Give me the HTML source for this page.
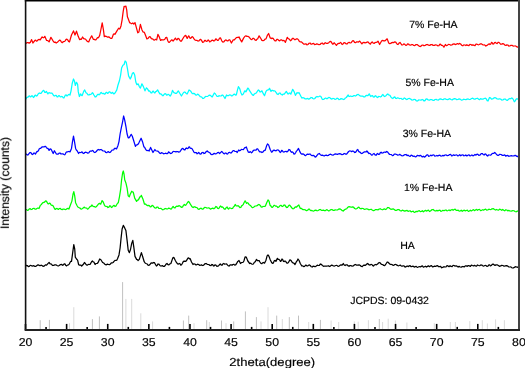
<!DOCTYPE html>
<html><head><meta charset="utf-8"><style>
html,body{margin:0;padding:0;background:#fff;}
svg{display:block;}
text{font-family:"Liberation Sans",sans-serif;fill:#000;text-rendering:geometricPrecision;}
.t{opacity:0.999;}
.t text{stroke:#000;stroke-width:0.18px;}
</style></head><body>
<svg width="525" height="368" viewBox="0 0 525 368">
<rect width="525" height="368" fill="#fff"/>

<line x1="40.2" y1="320.2" x2="40.2" y2="329" stroke="#c0c0c0" stroke-width="1"/>
<line x1="49.4" y1="319.9" x2="49.4" y2="329" stroke="#c0c0c0" stroke-width="1"/>
<line x1="69.5" y1="323.2" x2="69.5" y2="329" stroke="#dadada" stroke-width="1"/>
<line x1="73.8" y1="307.2" x2="73.8" y2="329" stroke="#dadada" stroke-width="1"/>
<line x1="92.4" y1="319.1" x2="92.4" y2="329" stroke="#c0c0c0" stroke-width="1"/>
<line x1="99.4" y1="316.4" x2="99.4" y2="329" stroke="#c0c0c0" stroke-width="1"/>
<line x1="122.6" y1="282.1" x2="122.6" y2="329" stroke="#c0c0c0" stroke-width="1"/>
<line x1="125.9" y1="298.9" x2="125.9" y2="329" stroke="#dadada" stroke-width="1"/>
<line x1="131.7" y1="298.9" x2="131.7" y2="329" stroke="#dadada" stroke-width="1"/>
<line x1="140.8" y1="313.3" x2="140.8" y2="329" stroke="#dadada" stroke-width="1"/>
<line x1="152.6" y1="321.4" x2="152.6" y2="329" stroke="#dadada" stroke-width="1"/>
<line x1="183.4" y1="320.5" x2="183.4" y2="329" stroke="#c0c0c0" stroke-width="1"/>
<line x1="188.7" y1="315.6" x2="188.7" y2="329" stroke="#c0c0c0" stroke-width="1"/>
<line x1="194.0" y1="323.2" x2="194.0" y2="329" stroke="#dadada" stroke-width="1"/>
<line x1="206.7" y1="320.2" x2="206.7" y2="329" stroke="#c0c0c0" stroke-width="1"/>
<line x1="209.3" y1="322.0" x2="209.3" y2="329" stroke="#dadada" stroke-width="1"/>
<line x1="221.5" y1="320.5" x2="221.5" y2="329" stroke="#c0c0c0" stroke-width="1"/>
<line x1="226.0" y1="323.2" x2="226.0" y2="329" stroke="#dadada" stroke-width="1"/>
<line x1="233.7" y1="321.4" x2="233.7" y2="329" stroke="#c0c0c0" stroke-width="1"/>
<line x1="245.4" y1="311.4" x2="245.4" y2="329" stroke="#c0c0c0" stroke-width="1"/>
<line x1="256.4" y1="317.1" x2="256.4" y2="329" stroke="#c0c0c0" stroke-width="1"/>
<line x1="261.0" y1="321.4" x2="261.0" y2="329" stroke="#dadada" stroke-width="1"/>
<line x1="268.0" y1="307.2" x2="268.0" y2="329" stroke="#dadada" stroke-width="1"/>
<line x1="276.7" y1="315.6" x2="276.7" y2="329" stroke="#c0c0c0" stroke-width="1"/>
<line x1="282.3" y1="319.0" x2="282.3" y2="329" stroke="#dadada" stroke-width="1"/>
<line x1="289.3" y1="317.1" x2="289.3" y2="329" stroke="#c0c0c0" stroke-width="1"/>
<line x1="298.5" y1="315.6" x2="298.5" y2="329" stroke="#c0c0c0" stroke-width="1"/>
<line x1="308.7" y1="322.0" x2="308.7" y2="329" stroke="#dadada" stroke-width="1"/>
<line x1="320.4" y1="319.9" x2="320.4" y2="329" stroke="#c0c0c0" stroke-width="1"/>
<line x1="331.1" y1="320.5" x2="331.1" y2="329" stroke="#dadada" stroke-width="1"/>
<line x1="338.7" y1="322.0" x2="338.7" y2="329" stroke="#dadada" stroke-width="1"/>
<line x1="354.3" y1="321.4" x2="354.3" y2="329" stroke="#dadada" stroke-width="1"/>
<line x1="358.2" y1="321.7" x2="358.2" y2="329" stroke="#dadada" stroke-width="1"/>
<line x1="368.4" y1="320.2" x2="368.4" y2="329" stroke="#dadada" stroke-width="1"/>
<line x1="379.3" y1="319.0" x2="379.3" y2="329" stroke="#c0c0c0" stroke-width="1"/>
<line x1="382.6" y1="322.0" x2="382.6" y2="329" stroke="#dadada" stroke-width="1"/>
<line x1="388.2" y1="318.7" x2="388.2" y2="329" stroke="#dadada" stroke-width="1"/>
<line x1="395.4" y1="320.5" x2="395.4" y2="329" stroke="#dadada" stroke-width="1"/>
<line x1="406.9" y1="322.5" x2="406.9" y2="329" stroke="#dadada" stroke-width="1"/>
<line x1="434.3" y1="323.2" x2="434.3" y2="329" stroke="#dadada" stroke-width="1"/>
<line x1="450.3" y1="322.0" x2="450.3" y2="329" stroke="#dadada" stroke-width="1"/>
<line x1="455.4" y1="322.0" x2="455.4" y2="329" stroke="#dadada" stroke-width="1"/>
<line x1="469.8" y1="321.1" x2="469.8" y2="329" stroke="#dadada" stroke-width="1"/>
<line x1="482.3" y1="320.2" x2="482.3" y2="329" stroke="#dadada" stroke-width="1"/>
<line x1="487.4" y1="323.5" x2="487.4" y2="329" stroke="#dadada" stroke-width="1"/>
<line x1="495.6" y1="319.4" x2="495.6" y2="329" stroke="#dadada" stroke-width="1"/>
<line x1="504.4" y1="320.2" x2="504.4" y2="329" stroke="#dadada" stroke-width="1"/>
<path d="M25.80,43.40 L26.90,42.73 L28.00,42.70 L29.15,43.13 L30.30,42.40 L31.60,39.60 L32.90,43.00 L34.90,40.40 L35.65,40.21 L36.40,41.10 L37.20,40.86 L38.00,39.90 L39.10,39.45 L40.20,39.90 L42.10,36.90 L43.30,37.80 L44.05,37.48 L44.80,36.30 L46.60,40.40 L47.85,40.65 L49.10,41.90 L50.90,37.30 L53.20,41.10 L54.20,42.29 L55.20,42.06 L56.20,43.00 L57.35,42.33 L58.50,41.10 L59.45,40.18 L60.40,40.40 L61.35,41.98 L62.30,42.70 L63.45,41.51 L64.60,41.40 L65.35,40.62 L66.10,39.30 L66.90,39.17 L67.70,39.90 L68.60,41.43 L69.50,41.90 L71.50,35.00 L73.50,30.90 L75.00,35.00 L76.50,31.20 L78.30,36.60 L79.60,39.60 L80.50,39.10 L81.40,39.30 L82.60,37.00 L83.65,38.56 L84.70,38.90 L85.70,39.26 L86.70,40.80 L87.70,41.63 L88.70,41.90 L89.80,39.30 L91.70,35.80 L93.30,39.30 L94.20,39.32 L95.10,39.90 L95.85,39.86 L96.60,38.90 L97.35,37.74 L98.10,37.80 L98.90,37.01 L99.70,35.40 L100.70,30.50 L102.20,22.90 L103.40,29.70 L104.30,36.60 L105.20,36.10 L106.10,36.30 L107.25,37.02 L108.40,36.90 L109.15,37.07 L109.90,37.80 L110.90,38.45 L111.90,38.40 L113.40,34.30 L114.15,33.87 L114.90,34.30 L116.80,31.20 L118.60,28.20 L119.80,29.00 L121.00,25.90 L122.10,19.80 L123.20,11.40 L124.10,6.40 L125.00,6.70 L125.90,6.10 L126.70,9.90 L127.40,16.80 L128.60,19.80 L129.70,22.90 L130.45,22.90 L131.20,23.60 L132.00,23.60 L132.80,22.90 L133.80,24.10 L135.00,22.60 L136.30,27.40 L137.80,32.80 L138.90,32.00 L140.40,24.40 L141.90,29.70 L143.00,32.00 L143.75,32.05 L144.50,32.80 L145.70,35.80 L146.90,38.90 L147.85,38.54 L148.80,37.30 L149.55,36.73 L150.30,36.90 L151.05,38.18 L151.80,38.90 L152.70,38.83 L153.60,39.90 L154.60,40.07 L155.60,39.30 L156.70,39.90 L157.90,34.30 L159.10,36.60 L160.60,40.40 L161.55,39.65 L162.50,39.90 L163.65,39.94 L164.80,39.30 L165.75,37.67 L166.70,37.30 L167.80,40.80 L168.55,42.18 L169.30,42.40 L171.60,39.90 L172.35,40.19 L173.10,41.10 L175.40,38.10 L176.20,39.39 L177.00,39.90 L178.00,38.40 L178.80,38.62 L179.60,39.90 L180.50,41.03 L181.40,41.10 L183.40,37.80 L184.55,35.99 L185.70,35.40 L187.20,38.40 L188.70,35.80 L190.20,38.40 L191.15,37.92 L192.10,36.60 L193.05,37.18 L194.00,38.90 L195.15,40.16 L196.30,40.40 L197.10,40.37 L197.90,41.10 L198.80,40.98 L199.70,39.90 L200.45,39.31 L201.20,39.90 L202.70,42.40 L203.70,41.97 L204.70,40.40 L205.45,40.45 L206.20,41.40 L207.20,41.13 L208.20,39.90 L208.95,40.62 L209.70,41.90 L210.65,41.51 L211.60,40.40 L212.75,40.19 L213.90,41.10 L214.85,40.42 L215.80,38.90 L216.60,39.32 L217.40,40.40 L218.15,40.32 L218.90,39.30 L219.65,38.03 L220.40,37.80 L221.90,41.10 L222.85,42.01 L223.80,41.90 L224.90,40.50 L226.00,39.90 L227.00,40.78 L228.00,40.80 L228.95,39.90 L229.90,39.90 L231.40,43.00 L233.20,39.90 L234.20,39.95 L235.20,38.90 L236.35,37.64 L237.50,37.30 L238.25,37.51 L239.00,36.90 L240.50,39.90 L241.70,41.90 L243.60,38.10 L244.75,36.50 L245.90,35.80 L246.85,36.33 L247.80,36.30 L248.75,36.76 L249.70,37.80 L250.75,39.22 L251.80,39.60 L252.80,38.38 L253.80,38.40 L254.95,39.88 L256.10,40.40 L256.85,39.24 L257.60,38.90 L259.10,35.80 L260.40,37.80 L261.90,40.40 L262.95,40.73 L264.00,40.40 L265.00,39.20 L266.00,38.90 L267.50,35.00 L268.60,33.50 L270.10,37.80 L271.10,38.57 L272.10,38.10 L273.10,38.45 L274.10,39.90 L275.00,40.81 L275.90,40.80 L276.80,39.47 L277.70,39.30 L278.70,40.40 L279.70,40.80 L280.70,39.90 L281.70,39.90 L282.75,40.76 L283.80,40.40 L284.60,40.92 L285.40,42.40 L287.30,37.30 L288.10,38.54 L288.90,38.90 L289.65,39.48 L290.40,40.80 L291.40,40.07 L292.40,38.40 L293.45,38.39 L294.50,39.60 L295.50,39.52 L296.50,38.90 L297.50,38.85 L298.50,39.90 L299.40,41.47 L300.30,41.90 L301.45,41.86 L302.60,43.00 L303.75,44.14 L304.90,44.20 L305.90,43.74 L306.90,44.86 L307.90,44.50 L309.05,43.28 L310.20,43.00 L310.95,44.02 L311.70,44.20 L312.70,43.51 L313.70,43.40 L314.60,44.53 L315.50,44.50 L316.65,43.87 L317.80,44.20 L318.95,44.69 L320.10,44.50 L321.25,43.30 L322.40,43.00 L323.15,44.04 L323.90,44.20 L324.65,43.05 L325.40,42.70 L326.45,43.44 L327.50,43.40 L328.80,42.70 L329.80,41.59 L330.80,41.40 L332.60,44.20 L333.35,43.94 L334.10,42.70 L336.40,45.40 L337.55,43.91 L338.70,43.40 L339.60,43.33 L340.50,42.40 L341.30,43.17 L342.10,44.50 L343.05,43.95 L344.00,42.70 L345.15,42.97 L346.30,43.90 L347.25,43.78 L348.20,42.70 L349.15,42.27 L350.10,43.00 L351.10,42.76 L352.10,41.40 L352.85,40.54 L353.60,40.80 L354.55,42.31 L355.50,42.70 L356.40,41.94 L357.30,41.90 L358.50,42.07 L359.70,41.10 L361.90,43.90 L362.90,42.64 L363.90,42.40 L365.00,42.85 L366.10,42.70 L367.05,42.02 L368.00,41.90 L369.20,43.33 L370.40,44.20 L371.30,42.51 L372.20,41.90 L373.15,43.01 L374.10,43.40 L375.05,42.59 L376.00,42.40 L377.00,42.24 L378.00,41.10 L379.60,44.50 L381.70,40.80 L382.70,40.41 L383.70,40.80 L384.65,40.90 L385.60,40.40 L386.40,39.32 L387.20,38.90 L388.70,43.00 L389.75,43.66 L390.80,43.40 L391.80,42.57 L392.80,42.40 L393.80,42.52 L394.80,41.90 L395.70,42.12 L396.60,43.40 L397.35,44.38 L398.10,44.50 L399.05,43.06 L400.00,42.40 L401.80,45.00 L402.80,44.89 L403.80,43.90 L404.80,44.37 L405.80,45.40 L406.70,45.06 L407.60,43.90 L408.50,44.03 L409.40,45.00 L410.65,45.09 L411.90,44.50 L412.80,44.64 L413.70,45.40 L414.85,45.54 L416.00,44.50 L417.15,44.50 L418.30,45.40 L419.45,46.30 L420.60,46.50 L421.75,45.26 L422.90,45.00 L424.00,45.76 L425.10,45.40 L426.25,44.67 L427.40,44.50 L428.55,45.23 L429.70,45.40 L430.85,44.63 L432.00,44.50 L433.15,45.48 L434.30,45.40 L435.45,44.87 L436.60,45.00 L437.75,45.87 L438.90,45.70 L439.65,44.44 L440.40,44.20 L441.40,45.27 L442.40,45.40 L443.15,45.95 L443.90,47.20 L445.40,44.50 L446.35,45.57 L447.30,45.40 L448.45,44.39 L449.60,44.50 L450.75,45.21 L451.90,45.00 L453.00,44.10 L454.10,43.90 L455.25,44.55 L456.40,44.20 L457.43,43.52 L458.47,44.14 L459.50,43.40 L460.65,44.01 L461.80,45.40 L462.80,45.76 L463.80,44.84 L464.80,45.00 L465.83,45.51 L466.87,44.65 L467.90,45.40 L468.90,45.69 L469.90,44.42 L470.90,44.50 L471.93,45.38 L472.97,44.72 L474.00,45.40 L475.00,45.61 L476.00,44.06 L477.00,44.20 L478.15,44.77 L479.30,44.50 L480.45,43.84 L481.60,43.90 L482.50,44.72 L483.40,45.00 L484.60,44.91 L485.80,46.00 L487.10,45.38 L488.40,44.20 L489.20,43.79 L490.00,44.50 L490.75,44.07 L491.50,42.40 L492.25,42.82 L493.00,44.20 L493.75,43.78 L494.50,42.70 L495.50,42.47 L496.50,43.40 L497.25,43.52 L498.00,42.40 L498.95,42.38 L499.90,43.40 L500.80,44.25 L501.70,44.20 L502.70,43.64 L503.70,43.90 L504.85,45.04 L506.00,45.40 L506.90,44.86 L507.80,45.00 L508.80,46.01 L509.80,46.00 L510.90,45.27 L512.00,45.40 L513.15,46.04 L514.30,46.00 L515.45,45.94 L516.60,46.50 L517.35,47.21 L518.10,46.90" fill="none" stroke="#ff0000" stroke-width="1.25" stroke-linejoin="round"/>
<path d="M25.80,99.10 L26.55,97.83 L27.30,97.20 L28.05,97.18 L28.80,96.00 L29.55,95.91 L30.30,96.90 L31.10,96.66 L31.90,95.70 L32.65,96.15 L33.40,97.50 L34.15,96.88 L34.90,95.40 L35.65,95.20 L36.40,96.00 L37.20,95.65 L38.00,94.20 L38.75,93.30 L39.50,93.00 L40.25,93.48 L41.00,93.40 L42.10,91.90 L43.30,90.40 L44.05,90.83 L44.80,92.40 L45.55,92.33 L46.30,91.40 L47.90,93.90 L48.65,92.76 L49.40,92.70 L50.30,93.12 L51.20,93.00 L51.95,93.17 L52.70,94.20 L53.70,95.63 L54.70,96.00 L55.45,95.35 L56.20,95.40 L57.00,96.76 L57.80,96.90 L58.55,95.71 L59.30,95.70 L60.05,96.58 L60.80,96.90 L61.55,96.42 L62.30,96.50 L63.10,97.71 L63.90,98.00 L65.40,95.00 L66.15,94.89 L66.90,96.00 L67.65,95.66 L68.40,94.50 L69.20,94.40 L70.00,95.00 L71.00,91.10 L72.20,83.50 L73.50,79.00 L74.50,81.20 L75.30,85.40 L76.50,82.30 L77.60,84.30 L78.30,91.90 L79.40,96.50 L80.60,93.90 L81.35,95.22 L82.10,95.70 L83.70,91.40 L84.70,89.90 L86.00,92.70 L86.75,93.17 L87.50,94.20 L88.25,94.95 L89.00,95.00 L89.75,94.32 L90.50,94.50 L91.45,94.05 L92.40,92.70 L93.15,93.50 L93.90,95.00 L95.10,96.90 L95.85,96.80 L96.60,96.00 L97.35,94.75 L98.10,94.20 L98.90,94.79 L99.70,94.50 L100.45,93.08 L101.20,92.40 L101.95,93.28 L102.70,93.60 L103.65,93.33 L104.60,94.20 L105.35,93.77 L106.10,92.40 L106.85,92.40 L107.60,93.40 L108.35,92.99 L109.10,91.90 L109.90,91.82 L110.70,93.00 L111.45,93.28 L112.20,92.40 L112.95,92.84 L113.70,93.90 L114.45,93.69 L115.20,92.70 L116.80,89.90 L118.00,85.00 L119.50,80.50 L120.60,75.10 L121.60,68.00 L122.90,65.20 L124.10,64.50 L125.10,61.00 L126.20,62.20 L127.40,68.30 L128.60,75.90 L130.20,79.00 L131.20,77.10 L132.30,73.60 L133.50,72.60 L134.70,75.10 L135.80,82.00 L136.90,84.70 L138.10,83.80 L139.30,86.60 L140.40,88.10 L141.90,83.80 L143.40,86.60 L145.00,90.80 L146.50,87.80 L147.50,88.90 L148.80,91.10 L149.55,90.97 L150.30,91.90 L151.05,92.98 L151.80,93.00 L152.55,91.44 L153.30,91.10 L154.10,92.47 L154.90,93.00 L155.65,91.63 L156.40,91.40 L157.60,89.90 L159.10,92.70 L159.85,93.81 L160.60,93.90 L161.55,94.42 L162.50,95.70 L163.25,95.58 L164.00,94.50 L164.90,93.61 L165.80,93.90 L166.60,95.02 L167.40,95.00 L168.15,94.30 L168.90,94.50 L169.65,95.73 L170.40,96.00 L171.60,93.40 L172.50,90.40 L173.90,92.70 L174.65,92.77 L175.40,93.40 L176.20,93.41 L177.00,92.70 L178.30,90.90 L179.60,93.00 L181.40,96.00 L183.40,92.70 L184.40,91.99 L185.40,92.40 L186.30,93.57 L187.20,93.90 L189.00,89.90 L190.20,90.80 L191.00,91.57 L191.80,93.00 L192.70,93.67 L193.60,93.40 L194.60,93.68 L195.60,95.00 L196.60,95.11 L197.60,94.20 L198.50,94.55 L199.40,95.70 L200.30,96.73 L201.20,96.90 L201.95,97.25 L202.70,98.50 L203.70,98.40 L204.70,97.20 L205.70,96.39 L206.70,96.50 L207.75,96.36 L208.80,95.40 L209.80,95.10 L210.80,95.70 L211.55,96.58 L212.30,96.90 L214.30,93.00 L215.20,93.71 L216.10,95.00 L217.05,96.27 L218.00,96.50 L219.00,95.63 L220.00,96.00 L221.10,95.98 L222.20,95.00 L223.00,95.34 L223.80,96.50 L225.00,98.50 L226.50,95.00 L227.40,95.68 L228.30,95.70 L229.45,94.90 L230.60,95.00 L231.60,95.97 L232.60,95.70 L233.65,94.40 L234.70,94.20 L235.50,95.06 L236.30,95.00 L237.50,89.90 L238.40,86.60 L239.80,88.90 L240.80,92.40 L242.00,95.00 L243.30,93.90 L244.80,90.80 L245.90,91.90 L247.80,88.10 L248.60,88.67 L249.40,90.40 L251.50,93.60 L252.45,94.85 L253.40,95.40 L254.35,93.95 L255.30,93.40 L256.30,93.01 L257.30,91.40 L258.40,89.90 L259.15,90.42 L259.90,91.90 L260.90,91.79 L261.90,90.80 L263.40,93.90 L264.50,95.70 L266.00,91.40 L267.00,90.28 L268.00,89.90 L268.75,89.62 L269.50,88.40 L271.00,91.40 L271.80,90.29 L272.60,90.40 L273.50,90.87 L274.40,90.80 L275.30,91.20 L276.20,92.70 L277.20,94.17 L278.20,94.50 L279.20,93.16 L280.20,93.00 L281.25,94.54 L282.30,95.00 L283.30,94.04 L284.30,94.20 L286.30,91.40 L287.80,93.90 L288.55,93.91 L289.30,93.00 L290.05,93.13 L290.80,94.20 L292.70,89.30 L294.20,91.90 L295.40,95.40 L296.90,92.70 L298.00,93.12 L299.10,92.70 L300.60,95.70 L301.80,98.00 L302.95,97.71 L304.10,98.00 L305.25,98.98 L306.40,98.80 L307.55,98.47 L308.70,99.10 L309.85,98.64 L311.00,97.50 L311.90,97.55 L312.80,98.50 L313.80,98.94 L314.80,98.50 L315.90,97.10 L317.00,96.50 L317.95,96.89 L318.90,96.50 L319.90,96.04 L320.90,96.50 L322.40,99.50 L323.55,99.49 L324.70,98.50 L325.60,98.06 L326.50,98.60 L327.25,98.73 L328.00,98.00 L328.80,97.47 L329.60,97.50 L330.75,98.65 L331.90,99.10 L332.85,98.47 L333.80,98.50 L334.90,99.28 L336.00,99.10 L337.00,98.22 L338.00,98.50 L338.95,99.56 L339.90,99.50 L341.00,98.59 L342.10,98.80 L343.30,99.51 L344.50,99.10 L345.40,97.94 L346.30,97.50 L348.20,95.00 L348.95,96.32 L349.70,96.50 L350.70,95.99 L351.70,96.50 L352.65,96.40 L353.60,95.70 L354.55,95.57 L355.50,96.00 L356.40,95.53 L357.30,94.50 L358.30,94.41 L359.30,95.40 L360.45,96.06 L361.60,96.00 L362.75,96.14 L363.90,96.90 L364.85,96.79 L365.80,95.70 L366.75,95.31 L367.70,95.70 L368.45,95.10 L369.20,93.90 L370.70,96.50 L371.60,95.77 L372.50,95.70 L373.30,96.91 L374.10,97.20 L374.85,96.12 L375.60,95.70 L376.60,96.97 L377.60,97.50 L378.60,96.47 L379.60,96.50 L380.50,96.93 L381.40,96.50 L382.15,95.11 L382.90,94.50 L383.80,95.94 L384.70,96.50 L386.00,95.70 L386.90,94.52 L387.80,93.90 L388.55,94.86 L389.30,95.00 L390.05,95.53 L390.80,96.90 L391.80,98.04 L392.80,98.50 L393.80,97.39 L394.80,96.90 L395.70,98.29 L396.60,98.50 L397.50,97.80 L398.40,98.00 L399.30,98.60 L400.20,98.50 L401.20,98.41 L402.20,99.30 L403.25,99.21 L404.30,98.00 L405.35,98.47 L406.40,99.50 L407.40,99.28 L408.40,98.50 L409.55,98.48 L410.70,99.10 L411.85,100.08 L413.00,100.00 L414.10,99.42 L415.20,99.50 L416.35,100.77 L417.50,101.00 L418.65,99.99 L419.80,100.00 L420.95,100.22 L422.10,99.50 L423.10,99.90 L424.10,101.00 L425.00,100.67 L425.90,99.10 L427.05,98.99 L428.20,100.00 L429.35,100.21 L430.50,99.50 L431.65,99.55 L432.80,100.30 L433.90,100.40 L435.00,99.50 L436.15,99.34 L437.30,100.00 L438.45,100.03 L439.60,99.10 L440.75,98.91 L441.90,99.50 L443.05,99.65 L444.20,98.80 L445.35,98.86 L446.50,99.50 L447.65,99.68 L448.80,99.10 L449.90,98.68 L451.00,99.50 L452.15,99.89 L453.30,99.10 L454.45,98.57 L455.60,98.80 L456.75,99.73 L457.90,99.50 L459.05,98.92 L460.20,99.10 L461.35,100.16 L462.50,100.00 L463.65,99.21 L464.80,99.50 L465.90,99.72 L467.00,99.10 L468.15,98.94 L469.30,99.50 L470.45,99.27 L471.60,98.50 L472.75,98.21 L473.90,99.10 L475.05,99.08 L476.20,98.50 L477.35,98.24 L478.50,99.10 L479.53,99.72 L480.57,98.62 L481.60,99.10 L482.95,99.13 L484.30,98.50 L485.35,98.22 L486.40,99.10 L487.20,100.67 L488.00,101.00 L489.50,97.50 L490.50,97.78 L491.50,99.10 L492.65,99.00 L493.80,98.00 L494.90,97.59 L496.00,98.00 L497.15,98.94 L498.30,99.10 L499.45,98.76 L500.60,99.10 L501.75,100.06 L502.90,100.00 L504.05,99.12 L505.20,99.10 L506.35,100.04 L507.50,100.30 L508.65,99.09 L509.80,98.50 L510.75,98.76 L511.70,98.00 L512.50,98.37 L513.30,99.50 L514.30,101.80 L515.10,101.10 L515.90,99.50 L516.65,98.76 L517.40,98.80 L518.40,99.50" fill="none" stroke="#00ffff" stroke-width="1.25" stroke-linejoin="round"/>
<path d="M25.80,154.10 L26.55,154.23 L27.30,155.00 L28.05,154.98 L28.80,153.80 L29.80,152.61 L30.80,152.50 L32.30,154.50 L33.05,154.11 L33.80,153.00 L34.60,153.10 L35.40,154.10 L36.90,151.50 L37.65,151.53 L38.40,150.70 L39.15,149.05 L39.90,148.40 L40.70,148.45 L41.50,147.40 L42.40,146.85 L43.30,146.90 L44.05,146.93 L44.80,146.40 L45.55,146.33 L46.30,147.40 L47.10,148.33 L47.90,148.40 L49.10,150.40 L50.10,148.90 L50.90,149.11 L51.70,150.40 L53.20,153.50 L54.40,150.70 L56.20,153.80 L57.20,154.22 L58.20,154.10 L59.10,153.12 L60.00,153.00 L60.95,153.93 L61.90,153.80 L62.90,153.80 L63.90,154.50 L64.65,154.76 L65.40,153.80 L66.15,152.26 L66.90,151.90 L67.65,151.98 L68.40,151.50 L69.20,151.42 L70.00,151.90 L71.50,148.40 L72.50,141.60 L73.50,136.20 L74.50,141.60 L75.60,148.40 L76.35,150.01 L77.10,150.70 L78.60,153.50 L79.40,152.39 L80.20,152.50 L80.95,152.61 L81.70,151.90 L82.45,152.35 L83.20,153.50 L83.95,153.42 L84.70,152.50 L85.70,152.22 L86.70,152.50 L87.70,153.10 L88.70,153.00 L89.60,151.57 L90.50,151.00 L91.45,151.15 L92.40,150.40 L93.35,151.10 L94.30,152.50 L95.30,152.35 L96.30,151.50 L97.35,150.15 L98.40,149.50 L99.30,150.04 L100.20,149.70 L101.00,149.48 L101.80,150.00 L102.80,150.78 L103.80,151.00 L104.80,151.18 L105.80,152.50 L106.70,152.67 L107.60,151.90 L108.50,151.70 L109.40,152.50 L110.20,152.34 L111.00,151.50 L112.00,150.12 L113.00,150.00 L113.75,149.78 L114.50,148.40 L115.50,148.34 L116.50,148.90 L118.00,145.40 L119.00,141.60 L120.10,134.00 L121.30,127.90 L122.60,121.80 L123.60,116.00 L124.70,120.20 L125.90,126.30 L127.10,134.00 L128.20,137.80 L128.95,137.79 L129.70,137.00 L131.20,134.30 L132.30,136.20 L133.50,140.00 L135.40,146.40 L136.15,145.12 L136.90,144.90 L137.90,144.38 L138.90,142.80 L141.10,138.20 L142.70,142.30 L143.90,146.90 L144.65,147.29 L145.40,148.90 L146.30,150.22 L147.20,150.70 L148.15,150.28 L149.10,151.00 L150.60,147.40 L151.80,150.00 L153.00,152.50 L154.90,149.50 L155.80,150.76 L156.70,151.00 L157.70,151.07 L158.70,151.90 L159.65,153.18 L160.60,153.50 L161.55,152.66 L162.50,153.00 L163.65,153.82 L164.80,153.50 L165.90,153.20 L167.00,153.80 L167.80,153.33 L168.60,151.90 L169.50,152.42 L170.40,153.50 L171.40,153.36 L172.40,152.50 L173.15,151.44 L173.90,151.50 L175.20,151.60 L176.00,151.97 L176.80,151.50 L177.80,151.52 L178.80,152.20 L179.80,151.77 L180.80,150.40 L181.85,148.88 L182.90,148.40 L183.90,149.71 L184.90,150.00 L185.65,148.60 L186.40,148.00 L187.20,148.63 L188.00,148.40 L188.75,147.20 L189.50,146.90 L190.25,148.20 L191.00,148.40 L191.75,148.49 L192.50,149.50 L194.00,152.20 L194.80,152.76 L195.60,152.50 L196.35,152.70 L197.10,153.80 L197.85,153.43 L198.60,152.50 L199.35,153.01 L200.10,154.10 L201.10,153.82 L202.10,152.50 L203.05,152.38 L204.00,153.50 L204.75,153.48 L205.50,152.50 L206.40,151.34 L207.30,151.00 L208.05,151.93 L208.80,152.20 L209.80,152.70 L210.80,154.10 L211.95,154.72 L213.10,154.10 L214.25,153.40 L215.40,153.80 L216.55,153.61 L217.70,152.50 L218.60,152.42 L219.50,153.50 L220.50,152.85 L221.50,151.50 L222.50,152.05 L223.50,153.50 L224.40,153.86 L225.30,153.00 L226.20,153.07 L227.10,154.10 L227.85,153.74 L228.60,152.50 L229.60,152.38 L230.60,153.00 L231.35,152.92 L232.10,151.90 L233.10,150.69 L234.10,150.70 L234.85,151.37 L235.60,151.50 L236.40,151.45 L237.20,152.50 L238.70,150.00 L239.60,150.77 L240.50,150.40 L241.45,149.36 L242.40,149.50 L243.15,149.74 L243.90,148.90 L244.65,147.74 L245.40,147.70 L246.30,146.90 L247.40,150.00 L248.40,152.20 L249.20,152.41 L250.00,151.70 L250.75,151.78 L251.50,152.80 L252.35,152.12 L253.20,150.60 L254.25,150.01 L255.30,150.00 L256.10,150.03 L256.90,148.90 L257.65,148.97 L258.40,150.00 L259.15,151.29 L259.90,151.90 L260.90,151.75 L261.90,152.50 L262.80,152.19 L263.70,151.00 L264.45,150.30 L265.20,150.40 L266.50,146.10 L267.50,143.90 L268.60,144.90 L270.10,149.20 L271.60,152.20 L272.40,151.69 L273.20,150.40 L274.15,150.09 L275.10,150.70 L276.10,150.84 L277.10,150.00 L278.05,149.86 L279.00,150.70 L280.20,152.50 L280.95,151.88 L281.70,150.40 L282.45,150.87 L283.20,151.90 L284.10,152.05 L285.00,151.50 L285.95,151.37 L286.90,151.90 L287.90,151.18 L288.90,149.50 L289.85,149.92 L290.80,151.50 L291.60,152.26 L292.40,151.90 L293.15,152.44 L293.90,154.10 L294.80,153.86 L295.70,152.50 L296.45,151.09 L297.20,150.40 L298.50,148.40 L300.00,151.90 L300.90,153.57 L301.80,154.10 L302.95,153.79 L304.10,154.50 L304.85,155.35 L305.60,155.60 L306.60,154.57 L307.60,154.10 L308.50,154.38 L309.40,154.10 L310.35,154.16 L311.30,155.30 L312.25,155.66 L313.20,155.30 L314.20,155.89 L315.20,157.10 L316.10,156.69 L317.00,155.30 L318.15,154.01 L319.30,153.50 L320.30,154.70 L321.30,155.30 L322.35,155.12 L323.40,155.60 L324.30,155.91 L325.20,155.30 L326.25,155.12 L327.30,155.60 L328.35,155.42 L329.40,154.50 L330.65,154.22 L331.90,155.00 L333.00,155.18 L334.10,154.50 L335.25,153.91 L336.40,154.10 L337.55,154.39 L338.70,153.80 L339.85,153.67 L341.00,154.10 L342.00,154.71 L343.00,154.50 L343.90,153.58 L344.80,153.50 L345.70,154.14 L346.60,154.10 L348.60,151.50 L349.60,150.94 L350.60,151.00 L351.65,151.59 L352.70,151.00 L353.70,151.30 L354.70,152.50 L355.45,152.35 L356.20,151.50 L357.00,150.01 L357.80,149.50 L358.55,151.26 L359.30,151.90 L360.30,152.42 L361.30,153.50 L362.35,153.28 L363.40,152.50 L364.40,151.88 L365.40,151.90 L366.15,151.98 L366.90,151.00 L368.90,153.50 L369.80,153.47 L370.70,154.10 L371.60,155.07 L372.50,155.00 L373.30,153.74 L374.10,153.50 L375.05,154.87 L376.00,155.30 L376.80,154.05 L377.60,153.50 L378.60,154.42 L379.60,154.10 L380.35,152.59 L381.10,152.20 L382.00,153.06 L382.90,153.00 L383.80,152.25 L384.70,152.20 L385.70,152.35 L386.70,151.50 L387.70,152.09 L388.70,153.50 L389.60,154.48 L390.50,154.50 L391.45,154.66 L392.40,155.60 L393.35,155.35 L394.30,154.10 L395.45,154.01 L396.60,154.50 L397.75,155.13 L398.90,155.00 L399.75,154.33 L400.60,154.90 L401.90,155.84 L403.20,155.60 L404.65,154.67 L406.10,154.50 L407.10,155.58 L408.10,155.12 L409.10,156.00 L410.13,156.47 L411.17,155.20 L412.20,155.60 L413.20,156.42 L414.20,156.04 L415.20,156.80 L416.23,156.67 L417.27,155.41 L418.30,155.60 L419.30,156.02 L420.30,155.30 L421.30,156.00 L422.33,156.98 L423.37,156.26 L424.40,157.10 L425.55,156.38 L426.70,155.00 L427.70,154.75 L428.70,156.29 L429.70,156.00 L430.73,155.14 L431.77,155.79 L432.80,155.00 L433.80,154.93 L434.80,156.06 L435.80,156.00 L436.83,155.42 L437.87,156.05 L438.90,155.30 L439.90,155.11 L440.90,156.11 L441.90,156.00 L442.93,155.36 L443.97,155.84 L445.00,155.00 L446.15,154.92 L447.30,155.60 L448.45,155.50 L449.60,154.50 L450.60,154.48 L451.60,155.82 L452.60,155.60 L453.63,154.81 L454.67,155.48 L455.70,155.00 L456.70,154.86 L457.70,155.79 L458.70,155.60 L459.73,154.77 L460.77,155.75 L461.80,155.00 L462.80,154.81 L463.80,155.75 L464.80,155.60 L465.83,154.99 L466.87,155.97 L467.90,155.30 L468.90,154.79 L469.90,155.89 L470.90,155.60 L471.93,154.91 L472.97,155.92 L474.00,155.30 L475.00,154.46 L476.00,155.12 L477.00,154.10 L477.90,154.35 L478.80,155.30 L479.80,155.23 L480.80,154.10 L481.55,153.50 L482.30,153.50 L483.30,154.58 L484.30,155.00 L485.05,153.95 L485.80,154.10 L486.75,155.40 L487.70,156.00 L488.60,154.96 L489.50,155.00 L490.50,155.24 L491.50,154.50 L492.25,153.43 L493.00,153.50 L493.75,153.40 L494.50,152.50 L495.50,153.11 L496.50,154.50 L497.55,155.27 L498.60,155.30 L499.85,154.32 L501.10,154.50 L502.40,155.39 L503.70,155.30 L504.70,154.79 L505.70,156.09 L506.70,155.60 L507.73,155.41 L508.77,156.34 L509.80,156.00 L511.30,155.69 L512.80,156.00 L513.95,155.93 L515.10,155.30 L516.00,155.60 L516.90,156.50 L517.65,156.63 L518.40,155.60" fill="none" stroke="#0000ff" stroke-width="1.25" stroke-linejoin="round"/>
<path d="M25.80,209.50 L26.55,209.58 L27.30,210.30 L28.30,210.13 L29.30,208.80 L30.20,208.61 L31.10,209.50 L32.00,209.36 L32.90,208.50 L33.90,208.35 L34.90,209.10 L35.90,209.23 L36.90,208.50 L37.95,208.00 L39.00,208.50 L40.50,205.00 L41.30,204.75 L42.10,203.40 L43.05,202.60 L44.00,202.40 L44.80,201.88 L45.60,200.80 L46.35,201.03 L47.10,202.40 L47.85,203.58 L48.60,203.90 L49.35,203.11 L50.10,203.40 L50.90,204.67 L51.70,205.40 L52.45,205.27 L53.20,206.00 L54.70,209.10 L55.45,209.33 L56.20,208.50 L57.00,208.45 L57.80,209.10 L58.55,209.41 L59.30,208.50 L60.30,208.41 L61.30,209.50 L62.20,209.58 L63.10,209.10 L64.00,209.02 L64.90,209.50 L65.90,209.61 L66.90,208.80 L67.90,208.34 L68.90,209.10 L70.40,205.00 L71.90,201.10 L73.00,194.30 L73.80,191.70 L74.70,195.80 L75.60,202.70 L77.10,205.70 L77.85,207.01 L78.60,207.50 L79.60,207.80 L80.60,208.80 L81.60,209.07 L82.60,208.50 L83.50,207.57 L84.40,207.20 L85.20,207.95 L86.00,208.00 L86.75,208.12 L87.50,209.10 L88.40,208.75 L89.30,207.50 L90.05,206.65 L90.80,206.50 L92.00,205.00 L92.80,206.10 L93.60,206.50 L94.50,206.50 L95.40,207.20 L96.40,206.74 L97.40,205.40 L98.40,204.03 L99.40,203.40 L100.70,204.20 L102.10,200.60 L103.20,202.00 L104.60,205.40 L105.35,206.23 L106.10,206.50 L107.00,206.43 L107.90,207.50 L108.90,207.07 L109.90,205.70 L110.65,206.10 L111.40,207.50 L112.40,206.94 L113.40,205.70 L114.15,205.47 L114.90,206.50 L115.85,206.08 L116.80,204.50 L117.55,203.29 L118.30,202.70 L119.50,196.60 L120.60,189.70 L121.60,179.80 L122.60,173.00 L123.30,171.00 L124.10,174.50 L124.70,179.80 L125.90,182.90 L127.10,188.20 L128.20,195.80 L129.30,196.90 L130.20,194.30 L131.70,191.20 L132.45,191.99 L133.20,192.00 L134.70,198.10 L136.60,201.40 L137.50,200.12 L138.40,199.90 L139.90,196.90 L140.65,196.68 L141.40,195.40 L143.00,199.30 L144.50,204.20 L145.50,203.99 L146.50,205.00 L147.50,205.62 L148.50,205.40 L149.40,205.58 L150.30,206.90 L151.20,206.66 L152.10,205.40 L153.10,205.92 L154.10,207.20 L155.10,208.08 L156.10,208.00 L157.00,207.01 L157.90,207.20 L158.80,208.42 L159.70,208.50 L160.70,208.35 L161.70,209.10 L162.70,209.78 L163.70,209.50 L164.75,208.72 L165.80,208.50 L166.80,209.01 L167.80,208.80 L168.80,208.09 L169.80,208.50 L170.70,209.07 L171.60,208.80 L172.35,207.32 L173.10,206.50 L174.05,207.72 L175.00,208.00 L175.95,206.58 L176.90,206.20 L177.85,206.46 L178.80,205.70 L179.80,205.90 L180.80,206.90 L181.70,207.33 L182.60,206.90 L183.50,205.25 L184.40,204.50 L185.20,205.30 L186.00,205.00 L187.20,203.00 L188.40,201.40 L189.15,201.94 L189.90,203.40 L191.50,206.00 L192.40,207.16 L193.30,207.50 L194.20,206.75 L195.10,206.90 L195.85,207.48 L196.60,207.50 L197.40,208.01 L198.20,209.10 L199.15,209.32 L200.10,208.50 L201.10,208.18 L202.10,209.10 L203.05,209.03 L204.00,208.00 L204.90,207.34 L205.80,207.50 L206.80,208.08 L207.80,208.00 L208.75,207.80 L209.70,208.50 L210.65,209.12 L211.60,208.50 L212.75,208.10 L213.90,208.80 L214.85,208.11 L215.80,206.50 L216.75,206.92 L217.70,208.50 L218.45,208.60 L219.20,208.00 L219.95,206.55 L220.70,206.00 L221.45,207.06 L222.20,206.90 L223.00,207.22 L223.80,208.50 L224.55,209.24 L225.30,209.10 L226.20,207.63 L227.10,206.90 L227.85,208.47 L228.60,209.10 L229.40,207.94 L230.20,208.00 L231.40,208.52 L232.60,208.50 L233.35,206.95 L234.10,206.50 L235.20,204.50 L236.20,205.82 L237.20,206.00 L238.10,205.66 L239.00,206.50 L239.90,207.54 L240.80,207.50 L241.60,205.89 L242.40,205.40 L243.15,204.66 L243.90,203.00 L245.10,200.80 L246.60,203.40 L247.35,202.73 L248.10,203.00 L248.90,204.42 L249.70,205.00 L250.65,205.71 L251.60,207.00 L252.60,207.68 L253.60,207.20 L254.85,206.12 L256.10,206.00 L257.25,205.59 L258.40,204.50 L259.40,204.65 L260.40,205.70 L261.15,206.89 L261.90,207.20 L262.95,206.45 L264.00,206.50 L264.75,206.49 L265.50,205.70 L266.80,202.40 L268.00,199.90 L269.00,201.10 L270.10,205.40 L270.85,205.84 L271.60,207.20 L272.40,207.34 L273.20,206.50 L273.95,205.46 L274.70,205.40 L275.45,206.13 L276.20,206.00 L276.95,206.47 L277.70,207.50 L278.70,207.10 L279.70,206.00 L280.45,205.37 L281.20,205.40 L282.00,206.43 L282.80,206.50 L283.75,205.17 L284.70,205.00 L286.60,207.50 L287.50,207.31 L288.40,206.00 L289.15,205.14 L289.90,205.40 L291.90,208.00 L292.90,208.81 L293.90,208.50 L294.80,207.34 L295.70,206.90 L296.60,207.02 L297.50,206.00 L298.80,205.00 L300.30,208.50 L301.20,208.29 L302.10,209.10 L303.10,209.60 L304.10,209.50 L305.10,209.77 L306.10,210.60 L307.00,210.58 L307.90,210.00 L308.65,209.01 L309.40,209.10 L310.20,210.21 L311.00,210.60 L311.90,210.49 L312.80,211.00 L313.80,211.14 L314.80,210.30 L315.75,210.06 L316.70,210.60 L317.65,210.75 L318.60,210.30 L319.50,209.57 L320.40,209.50 L321.40,210.36 L322.40,210.30 L323.40,210.12 L324.40,210.60 L325.30,210.67 L326.20,210.00 L326.95,209.62 L327.70,210.30 L328.65,210.88 L329.60,210.60 L330.75,209.66 L331.90,209.50 L333.00,210.34 L334.10,210.30 L335.25,209.87 L336.40,210.00 L337.55,209.96 L338.70,209.10 L339.85,208.88 L341.00,209.50 L342.15,210.59 L343.30,211.00 L344.45,209.74 L345.60,209.10 L346.75,208.74 L347.90,207.20 L349.00,206.60 L350.10,206.90 L351.25,207.25 L352.40,206.90 L353.55,207.21 L354.70,208.50 L355.85,209.06 L357.00,208.50 L357.90,207.57 L358.80,207.20 L359.80,208.28 L360.80,208.80 L361.95,208.33 L363.10,208.50 L364.25,209.33 L365.40,209.10 L366.55,208.77 L367.70,209.10 L368.85,209.82 L370.00,209.50 L371.10,209.24 L372.20,210.00 L373.35,210.62 L374.50,210.30 L375.65,209.55 L376.80,209.50 L377.95,209.92 L379.10,209.10 L380.25,208.74 L381.40,209.50 L382.55,209.76 L383.70,209.10 L384.65,208.95 L385.60,209.50 L386.55,209.00 L387.50,207.50 L388.65,207.59 L389.80,208.50 L390.90,209.28 L392.00,209.10 L393.15,208.91 L394.30,209.50 L395.45,210.40 L396.60,210.30 L397.75,209.61 L398.90,209.50 L400.05,210.63 L401.20,211.00 L402.35,210.18 L403.50,210.60 L404.80,211.19 L406.10,210.60 L407.10,210.35 L408.10,211.45 L409.10,211.00 L410.13,210.78 L411.17,211.94 L412.20,211.50 L413.20,211.16 L414.20,212.32 L415.20,212.10 L416.23,211.37 L417.27,211.64 L418.30,211.00 L419.30,210.58 L420.30,211.62 L421.30,211.50 L422.33,210.77 L423.37,211.78 L424.40,211.00 L425.40,210.39 L426.40,211.07 L427.40,210.60 L428.43,210.15 L429.47,211.49 L430.50,211.00 L431.85,209.73 L433.20,209.50 L434.50,210.70 L435.80,211.00 L436.83,210.36 L437.87,210.93 L438.90,210.30 L439.90,210.19 L440.90,211.28 L441.90,211.00 L442.93,210.31 L443.97,210.81 L445.00,210.20 L446.00,209.99 L447.00,210.91 L448.00,210.50 L449.03,209.96 L450.07,210.62 L451.10,210.00 L452.10,209.45 L453.10,210.25 L454.10,209.50 L455.13,209.17 L456.17,210.31 L457.20,210.30 L458.20,210.19 L459.20,211.15 L460.20,211.00 L461.23,210.24 L462.27,211.29 L463.30,210.60 L464.30,210.17 L465.30,210.88 L466.30,210.50 L467.33,210.15 L468.37,211.40 L469.40,211.00 L470.40,210.16 L471.40,210.93 L472.40,210.30 L473.43,209.61 L474.47,210.62 L475.50,210.00 L476.50,209.39 L477.50,210.29 L478.50,209.50 L479.53,209.41 L480.57,210.56 L481.60,210.30 L482.60,209.73 L483.60,210.10 L484.60,209.50 L485.63,209.07 L486.67,210.18 L487.70,210.00 L488.85,209.21 L490.00,209.50 L490.95,209.64 L491.90,208.80 L493.20,208.58 L494.50,209.50 L495.53,210.07 L496.57,209.44 L497.60,210.00 L498.60,210.21 L499.60,209.08 L500.60,209.50 L501.63,210.25 L502.67,209.42 L503.70,210.30 L504.70,210.79 L505.70,209.78 L506.70,210.00 L507.73,210.80 L508.77,210.36 L509.80,211.00 L511.30,211.08 L512.80,210.60 L513.95,210.75 L515.10,211.50 L516.25,211.83 L517.40,211.00 L518.40,211.50" fill="none" stroke="#00ff00" stroke-width="1.25" stroke-linejoin="round"/>
<path d="M25.80,265.90 L26.55,265.38 L27.30,265.50 L28.30,266.53 L29.30,266.40 L30.20,265.41 L31.10,265.50 L32.00,266.06 L32.90,265.90 L33.90,265.70 L34.90,266.40 L35.90,266.38 L36.90,265.50 L37.95,264.85 L39.00,265.20 L40.00,265.75 L41.00,265.20 L42.00,265.50 L43.00,266.40 L43.90,266.23 L44.80,265.50 L45.70,264.78 L46.60,265.20 L47.90,263.60 L49.10,262.40 L49.85,263.58 L50.60,263.90 L51.50,264.16 L52.40,265.50 L53.55,265.47 L54.70,264.90 L55.85,264.77 L57.00,265.50 L58.15,266.03 L59.30,265.50 L60.45,264.60 L61.60,264.40 L62.50,265.26 L63.40,264.90 L64.15,263.81 L64.90,263.90 L65.65,265.18 L66.40,265.90 L67.40,265.12 L68.40,264.90 L69.20,264.16 L70.00,262.50 L70.75,261.34 L71.50,261.40 L72.50,254.10 L73.80,244.60 L74.70,248.80 L75.30,257.10 L76.50,259.00 L77.60,260.20 L78.60,264.50 L79.40,265.21 L80.20,265.10 L80.95,265.20 L81.70,266.00 L82.90,264.80 L83.65,264.07 L84.40,262.50 L85.20,263.22 L86.00,264.50 L86.75,265.15 L87.50,265.10 L88.40,264.37 L89.30,264.50 L90.05,264.30 L90.80,263.20 L91.60,261.75 L92.40,261.00 L93.15,261.85 L93.90,262.00 L95.10,264.50 L95.85,263.65 L96.60,263.50 L97.35,263.44 L98.10,262.50 L99.70,259.00 L100.90,259.70 L102.60,262.50 L103.60,262.88 L104.60,264.00 L105.50,264.68 L106.40,264.80 L107.40,264.08 L108.40,264.50 L109.40,264.72 L110.40,264.00 L111.30,262.95 L112.20,262.90 L113.10,262.49 L114.00,261.40 L115.00,260.32 L116.00,260.50 L116.75,260.18 L117.50,258.70 L119.00,254.90 L120.10,248.00 L121.00,238.90 L122.10,229.00 L123.30,225.40 L124.70,227.90 L125.90,230.50 L127.10,240.40 L128.20,250.30 L129.40,252.60 L130.50,249.50 L131.70,243.40 L132.80,240.40 L133.80,247.20 L135.00,256.40 L136.60,259.40 L137.35,259.64 L138.10,260.50 L139.30,259.40 L140.40,255.90 L141.40,252.60 L142.70,256.80 L144.20,261.70 L145.10,262.99 L146.00,263.50 L147.00,263.77 L148.00,265.10 L149.00,265.33 L150.00,264.50 L150.90,263.09 L151.80,262.90 L152.70,263.12 L153.60,262.50 L154.40,262.68 L155.20,264.00 L156.40,266.00 L157.15,265.51 L157.90,264.00 L158.65,264.02 L159.40,264.80 L160.35,265.88 L161.30,266.00 L162.25,265.56 L163.20,266.30 L164.20,266.47 L165.20,265.50 L166.10,264.05 L167.00,263.50 L167.95,264.63 L168.90,264.80 L169.90,263.87 L170.90,263.50 L172.80,257.90 L173.90,257.40 L175.20,260.20 L176.60,262.70 L177.70,264.00 L178.50,264.11 L179.30,263.50 L180.05,263.74 L180.80,265.10 L181.55,264.72 L182.30,263.50 L183.40,261.40 L184.40,261.07 L185.40,261.40 L186.30,260.87 L187.20,259.40 L187.95,258.13 L188.70,257.90 L189.45,258.81 L190.20,258.70 L191.50,262.00 L193.00,264.50 L193.90,263.85 L194.80,264.00 L195.70,264.83 L196.60,264.80 L197.60,264.20 L198.60,264.50 L199.60,265.35 L200.60,265.10 L201.50,264.84 L202.40,265.50 L203.35,265.41 L204.30,264.50 L205.25,263.55 L206.20,263.50 L207.20,264.28 L208.20,264.50 L209.10,264.71 L210.00,265.50 L210.95,265.52 L211.90,264.50 L212.65,264.63 L213.40,266.00 L214.15,265.88 L214.90,264.80 L215.90,265.14 L216.90,266.30 L217.90,266.23 L218.90,265.50 L219.65,264.30 L220.40,264.00 L221.30,265.17 L222.20,265.10 L223.00,263.75 L223.80,263.50 L224.70,264.21 L225.60,264.00 L226.60,263.97 L227.60,265.10 L228.35,265.90 L229.10,266.00 L230.10,264.95 L231.10,264.80 L232.00,265.26 L232.90,264.50 L233.80,264.32 L234.70,265.10 L235.50,264.99 L236.30,264.00 L237.80,261.40 L239.00,260.50 L240.50,263.50 L241.45,262.63 L242.40,262.50 L243.15,262.22 L243.90,261.00 L245.10,256.80 L246.30,257.10 L247.80,261.00 L249.70,263.50 L250.65,263.14 L251.60,264.00 L252.50,264.27 L253.40,264.00 L254.35,262.30 L255.30,261.70 L256.40,259.40 L257.40,260.52 L258.40,260.50 L259.15,260.66 L259.90,262.00 L261.00,263.50 L261.75,263.74 L262.50,262.90 L263.50,262.49 L264.50,263.20 L266.00,260.20 L267.10,255.90 L268.00,254.90 L269.00,256.40 L270.10,259.40 L271.60,262.50 L272.40,263.31 L273.20,263.20 L274.40,260.50 L275.15,260.48 L275.90,261.40 L277.40,258.40 L278.20,259.32 L279.00,259.40 L279.75,260.11 L280.50,261.40 L281.25,260.78 L282.00,259.00 L282.75,259.72 L283.50,261.40 L284.25,261.54 L285.00,261.00 L285.80,261.50 L286.60,262.90 L287.50,263.14 L288.40,262.50 L289.90,259.90 L290.65,260.05 L291.40,261.00 L292.20,262.34 L293.00,262.90 L294.00,263.24 L295.00,264.50 L296.50,261.40 L297.25,260.69 L298.00,259.00 L299.10,260.50 L300.30,263.50 L301.80,266.00 L302.70,265.81 L303.60,266.60 L304.60,266.28 L305.60,265.10 L306.35,265.27 L307.10,266.00 L307.90,265.90 L308.70,265.10 L309.45,264.97 L310.20,265.50 L311.20,266.73 L312.20,267.00 L313.10,266.07 L314.00,266.30 L315.15,266.71 L316.30,266.00 L317.30,265.19 L318.30,265.50 L319.35,265.31 L320.40,264.00 L321.40,264.39 L322.40,265.50 L323.55,266.32 L324.70,266.00 L326.10,266.00 L327.30,266.00 L328.35,265.74 L329.40,266.50 L330.40,266.10 L331.40,265.10 L332.40,265.27 L333.40,266.00 L334.55,266.03 L335.70,265.50 L336.85,265.36 L338.00,266.30 L339.10,266.06 L340.20,265.10 L341.15,264.79 L342.10,265.10 L343.30,263.50 L344.20,264.99 L345.10,265.50 L346.10,264.76 L347.10,264.80 L348.10,265.85 L349.10,266.30 L350.00,265.57 L350.90,265.50 L352.05,266.21 L353.20,266.00 L354.35,264.92 L355.50,264.50 L356.65,265.17 L357.80,265.10 L359.10,264.77 L360.40,265.50 L361.35,266.48 L362.30,266.60 L363.30,265.46 L364.30,265.10 L365.20,265.39 L366.10,264.80 L366.90,263.87 L367.70,263.50 L368.85,264.71 L370.00,265.10 L370.95,264.38 L371.90,264.50 L372.70,265.59 L373.50,266.00 L374.40,264.94 L375.30,264.50 L376.45,264.84 L377.60,264.00 L378.75,262.80 L379.90,262.50 L380.80,263.85 L381.70,264.50 L382.70,264.51 L383.70,265.50 L384.65,265.56 L385.60,264.50 L387.20,262.00 L388.10,262.32 L389.00,263.20 L389.90,264.13 L390.80,264.50 L391.80,264.48 L392.80,265.10 L393.80,265.33 L394.80,264.50 L395.85,264.47 L396.90,265.10 L398.15,265.82 L399.40,265.50 L400.20,265.09 L401.00,265.70 L402.00,266.27 L403.00,265.90 L404.03,265.82 L405.07,267.05 L406.10,266.70 L407.10,265.88 L408.10,266.62 L409.10,265.90 L410.13,265.72 L411.17,266.74 L412.20,266.40 L413.20,266.09 L414.20,267.08 L415.20,266.70 L416.23,266.41 L417.27,267.40 L418.30,267.00 L419.30,266.51 L420.30,266.98 L421.30,266.40 L422.33,265.88 L423.37,267.19 L424.40,266.70 L425.40,266.22 L426.40,267.08 L427.40,266.40 L428.43,265.85 L429.47,266.67 L430.50,265.90 L431.50,265.63 L432.50,266.85 L433.50,266.70 L434.53,266.07 L435.57,266.44 L436.60,265.90 L437.60,265.58 L438.60,266.72 L439.60,266.70 L440.63,266.37 L441.67,267.78 L442.70,267.40 L443.85,266.72 L445.00,267.00 L446.00,266.97 L447.00,265.68 L448.00,265.90 L449.03,266.69 L450.07,265.71 L451.10,266.40 L452.10,266.55 L453.10,265.39 L454.10,265.50 L455.13,266.19 L456.17,265.76 L457.20,266.40 L458.20,267.11 L459.20,266.37 L460.20,267.00 L461.23,267.24 L462.27,266.49 L463.30,266.70 L464.30,266.94 L465.30,265.79 L466.30,265.90 L467.33,266.35 L468.37,265.51 L469.40,265.90 L470.40,266.35 L471.40,265.04 L472.40,265.50 L473.43,265.91 L474.47,265.42 L475.50,265.90 L476.50,266.15 L477.50,265.01 L478.50,265.50 L479.65,265.75 L480.80,264.90 L481.80,265.01 L482.80,265.90 L483.85,266.05 L484.90,265.50 L485.90,265.44 L486.90,266.40 L487.90,266.22 L488.90,264.90 L489.65,264.79 L490.40,265.90 L491.30,265.54 L492.20,264.40 L493.15,264.06 L494.10,264.90 L495.05,265.42 L496.00,264.90 L497.15,264.76 L498.30,265.50 L499.45,266.32 L500.60,265.90 L501.75,265.35 L502.90,265.50 L504.05,266.23 L505.20,265.90 L506.35,265.60 L507.50,265.90 L508.65,266.78 L509.80,267.00 L510.90,266.85 L512.00,267.90 L513.15,268.00 L514.30,267.40 L515.45,266.66 L516.60,267.00 L517.50,267.34 L518.40,266.70" fill="none" stroke="#000000" stroke-width="1.25" stroke-linejoin="round"/>
<line x1="25.50" y1="323.9" x2="25.50" y2="330.0" stroke="#000" stroke-width="1.6"/>
<line x1="46.06" y1="326.9" x2="46.06" y2="330.0" stroke="#000" stroke-width="1.6"/>
<line x1="66.62" y1="323.9" x2="66.62" y2="330.0" stroke="#000" stroke-width="1.6"/>
<line x1="87.17" y1="326.9" x2="87.17" y2="330.0" stroke="#000" stroke-width="1.6"/>
<line x1="107.73" y1="323.9" x2="107.73" y2="330.0" stroke="#000" stroke-width="1.6"/>
<line x1="128.29" y1="326.9" x2="128.29" y2="330.0" stroke="#000" stroke-width="1.6"/>
<line x1="148.85" y1="323.9" x2="148.85" y2="330.0" stroke="#000" stroke-width="1.6"/>
<line x1="169.41" y1="326.9" x2="169.41" y2="330.0" stroke="#000" stroke-width="1.6"/>
<line x1="189.97" y1="323.9" x2="189.97" y2="330.0" stroke="#000" stroke-width="1.6"/>
<line x1="210.53" y1="326.9" x2="210.53" y2="330.0" stroke="#000" stroke-width="1.6"/>
<line x1="231.08" y1="323.9" x2="231.08" y2="330.0" stroke="#000" stroke-width="1.6"/>
<line x1="251.64" y1="326.9" x2="251.64" y2="330.0" stroke="#000" stroke-width="1.6"/>
<line x1="272.20" y1="323.9" x2="272.20" y2="330.0" stroke="#000" stroke-width="1.6"/>
<line x1="292.76" y1="326.9" x2="292.76" y2="330.0" stroke="#000" stroke-width="1.6"/>
<line x1="313.32" y1="323.9" x2="313.32" y2="330.0" stroke="#000" stroke-width="1.6"/>
<line x1="333.88" y1="326.9" x2="333.88" y2="330.0" stroke="#000" stroke-width="1.6"/>
<line x1="354.43" y1="323.9" x2="354.43" y2="330.0" stroke="#000" stroke-width="1.6"/>
<line x1="374.99" y1="326.9" x2="374.99" y2="330.0" stroke="#000" stroke-width="1.6"/>
<line x1="395.55" y1="323.9" x2="395.55" y2="330.0" stroke="#000" stroke-width="1.6"/>
<line x1="416.11" y1="326.9" x2="416.11" y2="330.0" stroke="#000" stroke-width="1.6"/>
<line x1="436.67" y1="323.9" x2="436.67" y2="330.0" stroke="#000" stroke-width="1.6"/>
<line x1="457.23" y1="326.9" x2="457.23" y2="330.0" stroke="#000" stroke-width="1.6"/>
<line x1="477.78" y1="323.9" x2="477.78" y2="330.0" stroke="#000" stroke-width="1.6"/>
<line x1="498.34" y1="326.9" x2="498.34" y2="330.0" stroke="#000" stroke-width="1.6"/>
<line x1="518.90" y1="323.9" x2="518.90" y2="330.0" stroke="#000" stroke-width="1.6"/>
<line x1="24.8" y1="0.6" x2="519.6" y2="0.6" stroke="#000" stroke-width="1.6"/>
<line x1="25.6" y1="0" x2="25.6" y2="330.9" stroke="#111" stroke-width="1.6"/>
<line x1="519" y1="0" x2="519" y2="330.9" stroke="#444" stroke-width="2"/>
<line x1="24.8" y1="330.0" x2="520" y2="330.0" stroke="#222" stroke-width="2"/>
<g class="t">
<text transform="translate(25.5,345.8) scale(1,0.93)" font-size="12.3" text-anchor="middle">20</text>
<text transform="translate(66.6,345.8) scale(1,0.93)" font-size="12.3" text-anchor="middle">25</text>
<text transform="translate(107.7,345.8) scale(1,0.93)" font-size="12.3" text-anchor="middle">30</text>
<text transform="translate(148.8,345.8) scale(1,0.93)" font-size="12.3" text-anchor="middle">35</text>
<text transform="translate(190.0,345.8) scale(1,0.93)" font-size="12.3" text-anchor="middle">40</text>
<text transform="translate(231.1,345.8) scale(1,0.93)" font-size="12.3" text-anchor="middle">45</text>
<text transform="translate(272.2,345.8) scale(1,0.93)" font-size="12.3" text-anchor="middle">50</text>
<text transform="translate(313.3,345.8) scale(1,0.93)" font-size="12.3" text-anchor="middle">55</text>
<text transform="translate(354.4,345.8) scale(1,0.93)" font-size="12.3" text-anchor="middle">60</text>
<text transform="translate(395.6,345.8) scale(1,0.93)" font-size="12.3" text-anchor="middle">65</text>
<text transform="translate(436.7,345.8) scale(1,0.93)" font-size="12.3" text-anchor="middle">70</text>
<text transform="translate(477.8,345.8) scale(1,0.93)" font-size="12.3" text-anchor="middle">75</text>
<text transform="translate(518.9,345.8) scale(1,0.93)" font-size="12.3" text-anchor="middle">80</text>
<text transform="translate(409.16,28.00) scale(1,1)" font-size="10.5">7% Fe-HA</text>
<text transform="translate(405.45,85.90) scale(1,1)" font-size="10.5">5% Fe-HA</text>
<text transform="translate(402.66,136.90) scale(1,1)" font-size="10.5">3% Fe-HA</text>
<text transform="translate(403.96,190.50) scale(1,1)" font-size="10.5">1% Fe-HA</text>
<text transform="translate(400.14,249.00) scale(1,1)" font-size="10.5">HA</text>
<text transform="translate(350.13,303.80) scale(1,1)" font-size="10.5">JCPDS: 09-0432</text>
<text transform="translate(229.3,365.5) scale(1,0.89)" font-size="13.1">2theta(degree)</text>
<text transform="translate(8.9,183.1) rotate(-90)" font-size="12.1" text-anchor="middle">Intensity (counts)</text>
</g>
</svg></body></html>
